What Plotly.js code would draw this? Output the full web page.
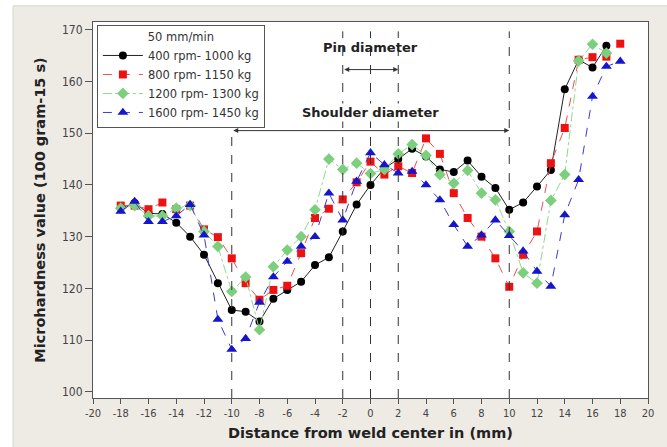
<!DOCTYPE html>
<html>
<head>
<meta charset="utf-8">
<script src="https://cdn.plot.ly/plotly-3.0.1.min.js"></script>
<style>html,body{margin:0;padding:0;background:#fff}#chart{width:667px;height:447px}</style>
</head>
<body>
<div id="chart"></div>
<script>
// Distance from weld center (mm)
const distance = [-18,-17,-16,-15,-14,-13,-12,-11,-10,-9,-8,-7,-6,-5,-4,-3,-2,-1,0,1,2,3,4,5,6,7,8,9,10,11,12,13,14,15,16,17,18];

const seriesNames = ["400 rpm- 1000 kg", "800 rpm- 1150 kg", "1200 rpm- 1300 kg", "1600 rpm- 1450 kg"];

const hv400 = [135.5,136.5,134.5,134.4,132.7,130,126.5,121,115.8,115.5,113.6,118,119.7,121.3,124.5,126,131,136.2,140,143.2,145,147,145.5,143,142.5,144.7,141.6,139.4,135.2,136.6,139.7,142.9,158.5,164.2,162.7,166.9,null];
const hv800 = [136,136,135.3,136.6,135.3,136,131.4,129.9,125.8,121,117.8,119.7,120.5,126.8,133.6,135.4,137.2,140.5,144.5,142,143.6,142.3,149,146,138.4,133.6,130,125.8,120.3,126.5,131,144.2,151,164.2,164.7,164.8,167.3];
const hv1200 = [135.5,136,134,134,135.5,136,131,128.1,119.4,122.2,112,124.2,127.4,130,135.2,145,143,144.2,142.2,143,146,147.8,145.7,142,140.3,142.8,138.4,137.1,131,123,121,137,142,164,167.2,165.5,null];
const hv1600 = [134.9,136.8,132.9,132.9,134,136.2,130.3,114,108.2,110.3,117.3,122.2,125.2,128.1,130,138.4,133.2,140.7,146.2,143.9,142.3,142.6,140,137.1,132.3,128.1,130.3,133.2,130.2,127.2,123.3,120.4,134.2,141,157.1,162.9,163.9];

const xTicks = [-20,-18,-16,-14,-12,-10,-8,-6,-4,-2,0,2,4,6,8,10,12,14,16,18,20];
const yTicks = [100,110,120,130,140,150,160,170];

// reference lines and dimension arrows
const guideX = [-10,-2,0,2,10];
const pinSpan = [-2, 2];
const pinArrowY = 162.3;
const pinLabelY = 166.6;
const shoulderSpan = [-10, 10];
const shoulderArrowY = 150.5;
const shoulderLabelY = 154.0;

const FONT = "'DejaVu Sans', Verdana, sans-serif";
const FONTC = "'DejaVu Sans Condensed', 'DejaVu Sans', sans-serif";

const styles = [
  {color:'#000000', symbol:'circle', size:8, dash:'solid', lc:'#222222'},
  {color:'#ee1111', symbol:'square', size:8, dash:'dash', lc:'#e85050'},
  {color:'#7ccf7c', symbol:'diamond', size:9, dash:'dashdot', lc:'#8fd88f'},
  {color:'#1515cc', symbol:'triangle-up', size:9.5, dash:'dash', lc:'#3a3ad0'}
];
const allSeries = [hv400, hv800, hv1200, hv1600];

const traces = allSeries.map((ys, i) => ({
  type: 'scatter', mode: 'lines+markers',
  x: distance, y: ys, name: seriesNames[i],
  connectgaps: false,
  line: {color: styles[i].lc, width: 1, dash: styles[i].dash},
  marker: {color: styles[i].color, symbol: styles[i].symbol, size: styles[i].size, line:{width:0}}
}));

const shapes = [
  {type:'rect', xref:'paper', yref:'paper', x0:-0.144, x1:1.04, y0:-0.14, y1:1.043,
   fillcolor:'#eeeae4', line:{color:'#d8d4ce', width:1}, layer:'below'},
  {type:'rect', xref:'paper', yref:'paper', x0:0, x1:1, y0:0, y1:1,
   fillcolor:'#ffffff', line:{width:0}, layer:'below'}
];
guideX.forEach(g => shapes.push({
  type:'line', xref:'x', yref:'paper', x0:g, x1:g, y0:0, y1:0.975,
  line:{color:'#333333', width:1, dash:'dash'}, layer:'above'
}));

const annotations = [
  {x: pinSpan[1], y: pinArrowY, ax: pinSpan[0], ay: pinArrowY, xref:'x', yref:'y', axref:'x', ayref:'y',
   showarrow:true, arrowhead:2, arrowside:'end+start', arrowsize:1, arrowwidth:1, arrowcolor:'#333', text:''},
  {x: 0, y: pinLabelY, xref:'x', yref:'y', showarrow:false, text:'<b>Pin diameter</b>',
   font:{family:FONT, size:13, color:'#222'}},
  {x: shoulderSpan[1], y: shoulderArrowY, ax: shoulderSpan[0], ay: shoulderArrowY, xref:'x', yref:'y', axref:'x', ayref:'y',
   showarrow:true, arrowhead:2, arrowside:'end+start', arrowsize:1, arrowwidth:1, arrowcolor:'#333', text:''},
  {x: 0, y: shoulderLabelY, xref:'x', yref:'y', showarrow:false, text:'<b>Shoulder diameter</b>',
   bgcolor:'#ffffff', font:{family:FONT, size:13, color:'#222'}}
];

const layout = {
  width: 667, height: 447,
  margin: {l: 93, r: 19, t: 22, b: 49},
  paper_bgcolor: '#ffffff', plot_bgcolor: 'rgba(0,0,0,0)',
  font: {family: FONT, color: '#333'},
  showlegend: true,
  legend: {
    x: 0.007, y: 0.992, xanchor:'left', yanchor:'top',
    bgcolor:'#ffffff', bordercolor:'#555555', borderwidth:1,
    font:{family:FONT, size:11.5, color:'#333'},
    title:{text:'50 mm/min', side:'top center', font:{family:FONT, size:11.5, color:'#333'}},
    tracegroupgap: 0, itemwidth: 40
  },
  xaxis: {
    range: [-20, 20], tickvals: xTicks, ticktext: xTicks.map(String),
    ticks:'outside', ticklen:5, tickcolor:'#555', showgrid:false, zeroline:false,
    showline:true, linecolor:'#555', linewidth:1, mirror:true,
    tickfont:{family:FONTC, size:11, color:'#444'},
    title:{text:'<b>Distance from weld center in (mm)</b>', standoff:8, font:{family:FONT, size:14.5, color:'#222'}}
  },
  yaxis: {
    range: [98.8, 171.5], tickvals: yTicks,
    ticks:'outside', ticklen:7, tickcolor:'#555', showgrid:false, zeroline:false,
    showline:true, linecolor:'#555', linewidth:1, mirror:true,
    tickfont:{family:FONTC, size:12, color:'#444'},
    title:{text:'<b>Microhardness value (100 gram-15 s)</b>', standoff:12, font:{family:FONT, size:14.5, color:'#222'}}
  },
  shapes: shapes,
  annotations: annotations
};

Plotly.newPlot('chart', traces, layout, {displayModeBar:false, staticPlot:true});
</script>
</body>
</html>
